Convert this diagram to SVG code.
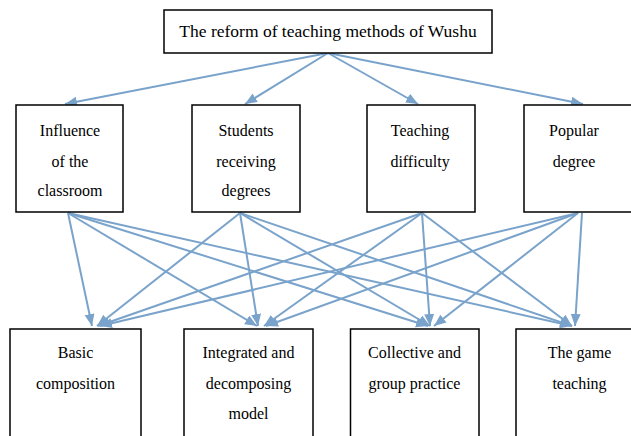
<svg xmlns="http://www.w3.org/2000/svg" width="631" height="436" viewBox="0 0 631 436">
<style>
.box{fill:#fff;stroke:#000;stroke-width:1.5}
.t{font-family:'Liberation Serif','Times New Roman',Tinos,'DejaVu Serif',serif;font-size:16px;fill:#000;text-anchor:middle}
.title{font-size:17.5px}
.c line{stroke:#7aa3cb;stroke-width:2;marker-end:url(#ah)}
</style>
<defs>
<marker id="ah" markerUnits="userSpaceOnUse" markerWidth="13" markerHeight="11" refX="12" refY="5" orient="auto">
<path d="M0,0 L12,5 L0,10 z" fill="#7aa3cb"/>
</marker>
</defs>
<rect width="631" height="436" fill="#fff"/>
<g class="c" id="connectors">
<line x1="328" y1="53" x2="65" y2="104"/>
<line x1="328" y1="53" x2="245" y2="104"/>
<line x1="328" y1="53" x2="418" y2="104"/>
<line x1="328" y1="53" x2="583" y2="104"/>
<line x1="68" y1="213" x2="92" y2="326"/>
<line x1="68" y1="213" x2="257" y2="326"/>
<line x1="68" y1="213" x2="428" y2="326"/>
<line x1="68" y1="213" x2="572" y2="326"/>
<line x1="240" y1="213" x2="97" y2="326"/>
<line x1="240" y1="213" x2="258" y2="326"/>
<line x1="240" y1="213" x2="430" y2="326"/>
<line x1="240" y1="213" x2="572" y2="326"/>
<line x1="422" y1="213" x2="98" y2="326"/>
<line x1="422" y1="213" x2="264" y2="326"/>
<line x1="422" y1="213" x2="430" y2="326"/>
<line x1="422" y1="213" x2="572" y2="326"/>
<line x1="578" y1="213" x2="100" y2="326"/>
<line x1="578" y1="213" x2="266" y2="326"/>
<line x1="578" y1="213" x2="434" y2="326"/>
<line x1="582" y1="213" x2="575" y2="326"/>
</g>
<g id="top">
<rect class="box" x="164" y="10" width="328" height="43"/>
<text class="t title" x="328" y="37">The reform of teaching methods of Wushu</text>
</g>
<g id="m1">
<rect class="box" x="16" y="105" width="107" height="107"/>
<text class="t" x="70" y="136">Influence</text>
<text class="t" x="70" y="167">of the</text>
<text class="t" x="70" y="196">classroom</text>
</g>
<g id="m2">
<rect class="box" x="192" y="105" width="108" height="107"/>
<text class="t" x="246" y="136">Students</text>
<text class="t" x="246" y="167">receiving</text>
<text class="t" x="246" y="196">degrees</text>
</g>
<g id="m3">
<rect class="box" x="367" y="105" width="108" height="107"/>
<text class="t" x="420" y="136">Teaching</text>
<text class="t" x="420" y="167">difficulty</text>
</g>
<g id="m4">
<rect class="box" x="524" y="105" width="115" height="107"/>
<text class="t" x="574" y="136">Popular</text>
<text class="t" x="574" y="167">degree</text>
</g>
<g id="b1">
<rect class="box" x="10" y="329" width="131" height="120"/>
<text class="t" x="75.5" y="358">Basic</text>
<text class="t" x="75.5" y="389">composition</text>
</g>
<g id="b2">
<rect class="box" x="184" y="329" width="129" height="120"/>
<text class="t" x="248.5" y="358">Integrated and</text>
<text class="t" x="248.5" y="389">decomposing</text>
<text class="t" x="248.5" y="419">model</text>
</g>
<g id="b3">
<rect class="box" x="350.5" y="329" width="128.5" height="120"/>
<text class="t" x="414.5" y="358">Collective and</text>
<text class="t" x="414.5" y="389">group practice</text>
</g>
<g id="b4">
<rect class="box" x="516" y="329" width="140" height="120"/>
<text class="t" x="579.5" y="358">The game</text>
<text class="t" x="579.5" y="389">teaching</text>
</g>
</svg>
